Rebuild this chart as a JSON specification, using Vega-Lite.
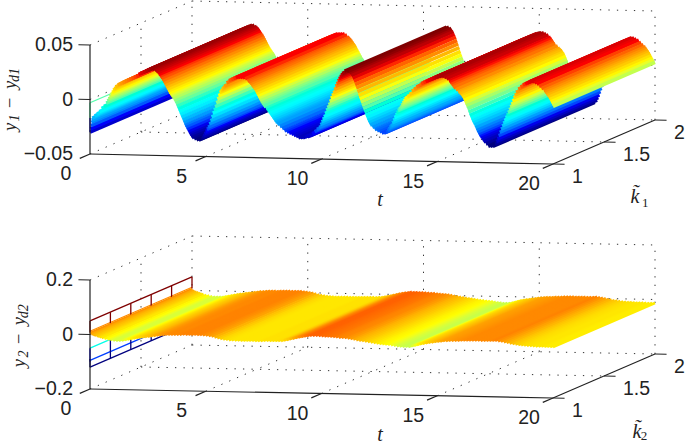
{"$schema":"https://vega.github.io/schema/vega-lite/v6.json","width":685,"height":445,"autosize":{"type":"none"},"padding":0,"background":"white","view":{"stroke":null},
"data":{"values":[
{"g":"d","p":1,"t":5,"k2":2,"z":-0.05},{"g":"d","p":1,"t":10,"k2":2,"z":-0.05},{"g":"d","p":1,"t":15,"k2":2,"z":-0.05},{"g":"d","p":1,"t":0,"k2":2,"z":-0.05},{"g":"d","p":1,"t":0,"t2":20,"k":1.5,"z":-0.05},{"g":"d","p":1,"t":0,"t2":20,"k":2,"z":-0.05},
{"g":"d","p":1,"t":0,"k":2,"z":-0.05,"z2":0.05},{"g":"d","p":1,"t":5,"k":2,"z":-0.05,"z2":0.05},{"g":"d","p":1,"t":10,"k":2,"z":-0.05,"z2":0.05},{"g":"d","p":1,"t":15,"k":2,"z":-0.05,"z2":0.05},{"g":"d","p":1,"t":20,"k":2,"z":-0.05,"z2":0.05},
{"g":"d","p":1,"t":0,"t2":20,"k":2,"z":0},{"g":"d","p":1,"t":0,"t2":20,"k":2,"z":0.05},{"g":"d","p":1,"t":0,"k2":2,"z":0},{"g":"d","p":1,"t":0,"k2":2,"z":0.05},{"g":"d","p":1,"t":0,"k":1.5,"z":-0.05,"z2":0.05},
{"g":"d","p":2,"t":5,"k2":2,"z":-0.2},{"g":"d","p":2,"t":10,"k2":2,"z":-0.2},{"g":"d","p":2,"t":15,"k2":2,"z":-0.2},{"g":"d","p":2,"t":0,"k2":2,"z":-0.2},{"g":"d","p":2,"t":0,"t2":20,"k":1.5,"z":-0.2},{"g":"d","p":2,"t":0,"t2":20,"k":2,"z":-0.2},
{"g":"d","p":2,"t":0,"k":2,"z":-0.2,"z2":0.2},{"g":"d","p":2,"t":5,"k":2,"z":-0.2,"z2":0.2},{"g":"d","p":2,"t":10,"k":2,"z":-0.2,"z2":0.2},{"g":"d","p":2,"t":15,"k":2,"z":-0.2,"z2":0.2},{"g":"d","p":2,"t":20,"k":2,"z":-0.2,"z2":0.2},
{"g":"d","p":2,"t":0,"t2":20,"k":2,"z":0},{"g":"d","p":2,"t":0,"t2":20,"k":2,"z":0.2},{"g":"d","p":2,"t":0,"k2":2,"z":0},{"g":"d","p":2,"t":0,"k2":2,"z":0.2},{"g":"d","p":2,"t":0,"k":1.5,"z":-0.2,"z2":0.2},
{"g":"w","p":1,"t":0,"k2":2,"z":-0.003},{"g":"w","p":1,"t":0,"z":-0.003,"z2":-0.017},{"g":"w","p":1,"t":0,"z":-0.03,"z2":-0.017},
{"g":"w","p":2,"t":0,"k2":2,"z":0.05},{"g":"w","p":2,"t":0,"k2":2,"z":0.012},{"g":"w","p":2,"t":0,"k2":2,"z":0.007},{"g":"w","p":2,"t":0,"k2":2,"z":-0.05},{"g":"w","p":2,"t":0,"k2":2,"z":-0.095},{"g":"w","p":2,"t":0,"k2":2,"z":-0.12},
{"g":"w","p":2,"t":0,"k":1,"z":0.05,"z2":0.007},{"g":"w","p":2,"t":0,"k":1.2,"z":0.05,"z2":0.007},{"g":"w","p":2,"t":0,"k":1.4,"z":0.05,"z2":0.007},{"g":"w","p":2,"t":0,"k":1.6,"z":0.05,"z2":0.007},{"g":"w","p":2,"t":0,"k":1.8,"z":0.05,"z2":0.007},{"g":"w","p":2,"t":0,"k":2,"z":0.05,"z2":0.007},
{"g":"w","p":2,"t":0,"k":1,"z":-0.1,"z2":-0.05},{"g":"w","p":2,"t":0,"k":1,"z":-0.12,"z2":-0.09},{"g":"w","p":2,"t":0,"k":1.2,"z":-0.12,"z2":-0.02},{"g":"w","p":2,"t":0,"k":1.4,"z":-0.12,"z2":-0.02},{"g":"w","p":2,"t":0,"k":1.6,"z":-0.12,"z2":-0.02},{"g":"w","p":2,"t":0,"k":1.8,"z":-0.12,"z2":-0.02},
{"g":"s","p":1,"t":0,"z":-0.03},{"g":"s","p":1,"t":0.02,"z":-0.027},{"g":"s","p":1,"t":0.04,"z":-0.024},{"g":"s","p":1,"t":0.06,"z":-0.021},{"g":"s","p":1,"t":0.08,"z":-0.019},
{"g":"s","p":1,"t":0.1,"z":-0.017},{"g":"s","p":1,"t":0.2,"z":-0.015},{"g":"s","p":1,"t":0.3,"z":-0.013},{"g":"s","p":1,"t":0.4,"z":-0.011},{"g":"s","p":1,"t":0.5,"z":-0.008},{"g":"s","p":1,"t":0.6,"z":-0.006},{"g":"s","p":1,"t":0.7,"z":-0.003},{"g":"s","p":1,"t":0.75,"z":-0.001},{"g":"s","p":1,"t":0.8,"z":0.001},{"g":"s","p":1,"t":0.85,"z":0.003},{"g":"s","p":1,"t":0.9,"z":0.005},{"g":"s","p":1,"t":0.95,"z":0.007},{"g":"s","p":1,"t":1,"z":0.009},{"g":"s","p":1,"t":1.05,"z":0.0105},
{"g":"s","p":1,"t":1.1,"z":0.012},{"g":"s","p":1,"t":1.2,"z":0.014},{"g":"s","p":1,"t":1.3,"z":0.015},{"g":"s","p":1,"t":1.4,"z":0.016},{"g":"s","p":1,"t":1.5,"z":0.017},{"g":"s","p":1,"t":1.6,"z":0.018},{"g":"s","p":1,"t":1.7,"z":0.019},{"g":"s","p":1,"t":1.8,"z":0.02},{"g":"s","p":1,"t":1.9,"z":0.021},{"g":"s","p":1,"t":2,"z":0.022},
{"g":"s","p":1,"t":2.1,"z":0.024},{"g":"s","p":1,"t":2.2,"z":0.025},{"g":"s","p":1,"t":2.3,"z":0.026},{"g":"s","p":1,"t":2.4,"z":0.027},{"g":"s","p":1,"t":2.5,"z":0.028},{"g":"s","p":1,"t":2.6,"z":0.029},{"g":"s","p":1,"t":2.7,"z":0.029},{"g":"s","p":1,"t":2.8,"z":0.028},{"g":"s","p":1,"t":2.85,"z":0.027},{"g":"s","p":1,"t":2.9,"z":0.026},{"g":"s","p":1,"t":2.95,"z":0.0245},{"g":"s","p":1,"t":3,"z":0.023},{"g":"s","p":1,"t":3.05,"z":0.0215},
{"g":"s","p":1,"t":3.1,"z":0.02},{"g":"s","p":1,"t":3.15,"z":0.018},{"g":"s","p":1,"t":3.2,"z":0.016},{"g":"s","p":1,"t":3.25,"z":0.014},{"g":"s","p":1,"t":3.3,"z":0.012},{"g":"s","p":1,"t":3.35,"z":0.01},{"g":"s","p":1,"t":3.4,"z":0.008},{"g":"s","p":1,"t":3.45,"z":0.0065},{"g":"s","p":1,"t":3.5,"z":0.005},{"g":"s","p":1,"t":3.55,"z":0.0035},{"g":"s","p":1,"t":3.6,"z":0.002},{"g":"s","p":1,"t":3.65,"z":0},{"g":"s","p":1,"t":3.7,"z":-0.002},{"g":"s","p":1,"t":3.75,"z":-0.0045},{"g":"s","p":1,"t":3.8,"z":-0.007},{"g":"s","p":1,"t":3.85,"z":-0.0095},{"g":"s","p":1,"t":3.9,"z":-0.012},{"g":"s","p":1,"t":3.95,"z":-0.0145},{"g":"s","p":1,"t":4,"z":-0.017},{"g":"s","p":1,"t":4.05,"z":-0.0195},
{"g":"s","p":1,"t":4.1,"z":-0.022},{"g":"s","p":1,"t":4.15,"z":-0.024},{"g":"s","p":1,"t":4.2,"z":-0.026},{"g":"s","p":1,"t":4.25,"z":-0.028},{"g":"s","p":1,"t":4.3,"z":-0.03},{"g":"s","p":1,"t":4.35,"z":-0.0315},{"g":"s","p":1,"t":4.4,"z":-0.033},{"g":"s","p":1,"t":4.5,"z":-0.034},{"g":"s","p":1,"t":4.6,"z":-0.035},{"g":"s","p":1,"t":4.7,"z":-0.035},{"g":"s","p":1,"t":4.8,"z":-0.034},{"g":"s","p":1,"t":4.85,"z":-0.0325},{"g":"s","p":1,"t":4.9,"z":-0.031},{"g":"s","p":1,"t":4.95,"z":-0.029},{"g":"s","p":1,"t":5,"z":-0.027},{"g":"s","p":1,"t":5.05,"z":-0.025},
{"g":"s","p":1,"t":5.1,"z":-0.023},{"g":"s","p":1,"t":5.15,"z":-0.02},{"g":"s","p":1,"t":5.2,"z":-0.017},{"g":"s","p":1,"t":5.25,"z":-0.0135},{"g":"s","p":1,"t":5.3,"z":-0.01},{"g":"s","p":1,"t":5.35,"z":-0.007},{"g":"s","p":1,"t":5.4,"z":-0.004},{"g":"s","p":1,"t":5.45,"z":-0.0005},{"g":"s","p":1,"t":5.5,"z":0.003},{"g":"s","p":1,"t":5.55,"z":0.006},{"g":"s","p":1,"t":5.6,"z":0.009},{"g":"s","p":1,"t":5.65,"z":0.0105},{"g":"s","p":1,"t":5.7,"z":0.012},{"g":"s","p":1,"t":5.75,"z":0.0135},{"g":"s","p":1,"t":5.8,"z":0.015},{"g":"s","p":1,"t":5.9,"z":0.018},{"g":"s","p":1,"t":6,"z":0.02},
{"g":"s","p":1,"t":6.1,"z":0.021},{"g":"s","p":1,"t":6.2,"z":0.022},{"g":"s","p":1,"t":6.3,"z":0.023},{"g":"s","p":1,"t":6.4,"z":0.023},{"g":"s","p":1,"t":6.5,"z":0.023},{"g":"s","p":1,"t":6.6,"z":0.023},{"g":"s","p":1,"t":6.7,"z":0.022},{"g":"s","p":1,"t":6.8,"z":0.02},{"g":"s","p":1,"t":6.85,"z":0.019},{"g":"s","p":1,"t":6.9,"z":0.018},{"g":"s","p":1,"t":6.95,"z":0.0165},{"g":"s","p":1,"t":7,"z":0.015},{"g":"s","p":1,"t":7.05,"z":0.0135},
{"g":"s","p":1,"t":7.1,"z":0.012},{"g":"s","p":1,"t":7.15,"z":0.01},{"g":"s","p":1,"t":7.2,"z":0.008},{"g":"s","p":1,"t":7.25,"z":0.006},{"g":"s","p":1,"t":7.3,"z":0.004},{"g":"s","p":1,"t":7.35,"z":0.002},{"g":"s","p":1,"t":7.4,"z":0},{"g":"s","p":1,"t":7.45,"z":-0.0015},{"g":"s","p":1,"t":7.5,"z":-0.003},{"g":"s","p":1,"t":7.6,"z":-0.005},{"g":"s","p":1,"t":7.65,"z":-0.0065},{"g":"s","p":1,"t":7.7,"z":-0.008},{"g":"s","p":1,"t":7.75,"z":-0.0095},{"g":"s","p":1,"t":7.8,"z":-0.011},{"g":"s","p":1,"t":7.85,"z":-0.0125},{"g":"s","p":1,"t":7.9,"z":-0.014},{"g":"s","p":1,"t":7.95,"z":-0.0155},{"g":"s","p":1,"t":8,"z":-0.017},{"g":"s","p":1,"t":8.05,"z":-0.018},
{"g":"s","p":1,"t":8.1,"z":-0.019},{"g":"s","p":1,"t":8.2,"z":-0.021},{"g":"s","p":1,"t":8.3,"z":-0.023},{"g":"s","p":1,"t":8.4,"z":-0.025},{"g":"s","p":1,"t":8.5,"z":-0.026},{"g":"s","p":1,"t":8.6,"z":-0.027},{"g":"s","p":1,"t":8.7,"z":-0.028},{"g":"s","p":1,"t":8.8,"z":-0.029},{"g":"s","p":1,"t":8.9,"z":-0.03},{"g":"s","p":1,"t":9,"z":-0.031},
{"g":"s","p":1,"t":9.1,"z":-0.031},{"g":"s","p":1,"t":9.2,"z":-0.031},{"g":"s","p":1,"t":9.3,"z":-0.03},{"g":"s","p":1,"t":9.4,"z":-0.03},{"g":"s","p":1,"t":9.5,"z":-0.029},{"g":"s","p":1,"t":9.6,"z":-0.027},{"g":"s","p":1,"t":9.7,"z":-0.025},{"g":"s","p":1,"t":9.8,"z":-0.023},{"g":"s","p":1,"t":9.9,"z":-0.021},{"g":"s","p":1,"t":9.95,"z":-0.0185},{"g":"s","p":1,"t":10,"z":-0.016},{"g":"s","p":1,"t":10.05,"z":-0.0135},
{"g":"s","p":1,"t":10.1,"z":-0.011},{"g":"s","p":1,"t":10.15,"z":-0.008},{"g":"s","p":1,"t":10.2,"z":-0.005},{"g":"s","p":1,"t":10.25,"z":-0.0025},{"g":"s","p":1,"t":10.3,"z":0},{"g":"s","p":1,"t":10.35,"z":0.003},{"g":"s","p":1,"t":10.4,"z":0.006},{"g":"s","p":1,"t":10.45,"z":0.0085},{"g":"s","p":1,"t":10.5,"z":0.011},{"g":"s","p":1,"t":10.55,"z":0.014},{"g":"s","p":1,"t":10.6,"z":0.017},{"g":"s","p":1,"t":10.65,"z":0.0195},{"g":"s","p":1,"t":10.7,"z":0.022},{"g":"s","p":1,"t":10.75,"z":0.024},{"g":"s","p":1,"t":10.8,"z":0.026},{"g":"s","p":1,"t":10.85,"z":0.0275},{"g":"s","p":1,"t":10.9,"z":0.029},{"g":"s","p":1,"t":11,"z":0.031},
{"g":"s","p":1,"t":11.1,"z":0.031},{"g":"s","p":1,"t":11.2,"z":0.03},{"g":"s","p":1,"t":11.25,"z":0.0285},{"g":"s","p":1,"t":11.3,"z":0.027},{"g":"s","p":1,"t":11.35,"z":0.0245},{"g":"s","p":1,"t":11.4,"z":0.022},{"g":"s","p":1,"t":11.45,"z":0.019},{"g":"s","p":1,"t":11.5,"z":0.016},{"g":"s","p":1,"t":11.55,"z":0.0125},{"g":"s","p":1,"t":11.6,"z":0.009},{"g":"s","p":1,"t":11.65,"z":0.006},{"g":"s","p":1,"t":11.7,"z":0.003},{"g":"s","p":1,"t":11.75,"z":0},{"g":"s","p":1,"t":11.8,"z":-0.003},{"g":"s","p":1,"t":11.85,"z":-0.006},{"g":"s","p":1,"t":11.9,"z":-0.009},{"g":"s","p":1,"t":11.95,"z":-0.0115},{"g":"s","p":1,"t":12,"z":-0.014},{"g":"s","p":1,"t":12.05,"z":-0.016},
{"g":"s","p":1,"t":12.1,"z":-0.018},{"g":"s","p":1,"t":12.2,"z":-0.02},{"g":"s","p":1,"t":12.3,"z":-0.022},{"g":"s","p":1,"t":12.4,"z":-0.023},{"g":"s","p":1,"t":12.5,"z":-0.024},{"g":"s","p":1,"t":12.6,"z":-0.025},{"g":"s","p":1,"t":12.7,"z":-0.025},{"g":"s","p":1,"t":12.8,"z":-0.024},{"g":"s","p":1,"t":12.85,"z":-0.0225},{"g":"s","p":1,"t":12.9,"z":-0.021},{"g":"s","p":1,"t":12.95,"z":-0.0195},{"g":"s","p":1,"t":13,"z":-0.018},{"g":"s","p":1,"t":13.05,"z":-0.0155},
{"g":"s","p":1,"t":13.1,"z":-0.013},{"g":"s","p":1,"t":13.15,"z":-0.0105},{"g":"s","p":1,"t":13.2,"z":-0.008},{"g":"s","p":1,"t":13.25,"z":-0.006},{"g":"s","p":1,"t":13.3,"z":-0.004},{"g":"s","p":1,"t":13.35,"z":-0.0025},{"g":"s","p":1,"t":13.4,"z":-0.001},{"g":"s","p":1,"t":13.45,"z":0.001},{"g":"s","p":1,"t":13.5,"z":0.003},{"g":"s","p":1,"t":13.55,"z":0.005},{"g":"s","p":1,"t":13.6,"z":0.007},{"g":"s","p":1,"t":13.7,"z":0.009},{"g":"s","p":1,"t":13.8,"z":0.011},{"g":"s","p":1,"t":13.9,"z":0.014},{"g":"s","p":1,"t":14,"z":0.016},
{"g":"s","p":1,"t":14.1,"z":0.018},{"g":"s","p":1,"t":14.2,"z":0.019},{"g":"s","p":1,"t":14.3,"z":0.021},{"g":"s","p":1,"t":14.4,"z":0.022},{"g":"s","p":1,"t":14.5,"z":0.023},{"g":"s","p":1,"t":14.6,"z":0.024},{"g":"s","p":1,"t":14.7,"z":0.025},{"g":"s","p":1,"t":14.8,"z":0.026},{"g":"s","p":1,"t":14.9,"z":0.027},{"g":"s","p":1,"t":15,"z":0.0275},
{"g":"s","p":1,"t":15.1,"z":0.028},{"g":"s","p":1,"t":15.2,"z":0.028},{"g":"s","p":1,"t":15.3,"z":0.027},{"g":"s","p":1,"t":15.4,"z":0.026},{"g":"s","p":1,"t":15.5,"z":0.024},{"g":"s","p":1,"t":15.55,"z":0.0225},{"g":"s","p":1,"t":15.6,"z":0.021},{"g":"s","p":1,"t":15.65,"z":0.0195},{"g":"s","p":1,"t":15.7,"z":0.018},{"g":"s","p":1,"t":15.8,"z":0.016},{"g":"s","p":1,"t":15.9,"z":0.014},{"g":"s","p":1,"t":15.95,"z":0.013},{"g":"s","p":1,"t":16,"z":0.012},{"g":"s","p":1,"t":16.05,"z":0.0105},
{"g":"s","p":1,"t":16.1,"z":0.009},{"g":"s","p":1,"t":16.15,"z":0.0065},{"g":"s","p":1,"t":16.2,"z":0.004},{"g":"s","p":1,"t":16.25,"z":0.0015},{"g":"s","p":1,"t":16.3,"z":-0.001},{"g":"s","p":1,"t":16.35,"z":-0.004},{"g":"s","p":1,"t":16.4,"z":-0.007},{"g":"s","p":1,"t":16.45,"z":-0.0095},{"g":"s","p":1,"t":16.5,"z":-0.012},{"g":"s","p":1,"t":16.55,"z":-0.014},{"g":"s","p":1,"t":16.6,"z":-0.016},{"g":"s","p":1,"t":16.65,"z":-0.0185},{"g":"s","p":1,"t":16.7,"z":-0.021},{"g":"s","p":1,"t":16.75,"z":-0.023},{"g":"s","p":1,"t":16.8,"z":-0.025},{"g":"s","p":1,"t":16.85,"z":-0.0265},{"g":"s","p":1,"t":16.9,"z":-0.028},{"g":"s","p":1,"t":16.95,"z":-0.0295},{"g":"s","p":1,"t":17,"z":-0.031},
{"g":"s","p":1,"t":17.1,"z":-0.033},{"g":"s","p":1,"t":17.2,"z":-0.035},{"g":"s","p":1,"t":17.3,"z":-0.035},{"g":"s","p":1,"t":17.4,"z":-0.035},{"g":"s","p":1,"t":17.5,"z":-0.033},{"g":"s","p":1,"t":17.55,"z":-0.0305},{"g":"s","p":1,"t":17.6,"z":-0.028},{"g":"s","p":1,"t":17.65,"z":-0.025},{"g":"s","p":1,"t":17.7,"z":-0.022},{"g":"s","p":1,"t":17.75,"z":-0.019},{"g":"s","p":1,"t":17.8,"z":-0.016},{"g":"s","p":1,"t":17.85,"z":-0.0135},{"g":"s","p":1,"t":17.9,"z":-0.011},{"g":"s","p":1,"t":17.95,"z":-0.0085},{"g":"s","p":1,"t":18,"z":-0.006},{"g":"s","p":1,"t":18.05,"z":-0.0035},
{"g":"s","p":1,"t":18.1,"z":-0.001},{"g":"s","p":1,"t":18.15,"z":0.0015},{"g":"s","p":1,"t":18.2,"z":0.004},{"g":"s","p":1,"t":18.25,"z":0.007},{"g":"s","p":1,"t":18.3,"z":0.01},{"g":"s","p":1,"t":18.35,"z":0.0125},{"g":"s","p":1,"t":18.4,"z":0.015},{"g":"s","p":1,"t":18.5,"z":0.018},{"g":"s","p":1,"t":18.6,"z":0.02},{"g":"s","p":1,"t":18.7,"z":0.022},{"g":"s","p":1,"t":18.8,"z":0.023},{"g":"s","p":1,"t":18.9,"z":0.024},{"g":"s","p":1,"t":19,"z":0.025},
{"g":"s","p":1,"t":19.1,"z":0.025},{"g":"s","p":1,"t":19.2,"z":0.024},{"g":"s","p":1,"t":19.3,"z":0.023},{"g":"s","p":1,"t":19.4,"z":0.021},{"g":"s","p":1,"t":19.5,"z":0.019},{"g":"s","p":1,"t":19.6,"z":0.017},{"g":"s","p":1,"t":19.65,"z":0.0155},{"g":"s","p":1,"t":19.7,"z":0.014},{"g":"s","p":1,"t":19.75,"z":0.0125},{"g":"s","p":1,"t":19.8,"z":0.011},{"g":"s","p":1,"t":19.85,"z":0.009},{"g":"s","p":1,"t":19.9,"z":0.007},{"g":"s","p":1,"t":19.95,"z":0.005},{"g":"s","p":1,"t":20,"z":0.003},
{"g":"s","p":2,"t":0,"z":0.004},{"g":"s","p":2,"t":0.05,"z":0.001},{"g":"s","p":2,"t":0.1,"z":-0.001},{"g":"s","p":2,"t":0.15,"z":-0.003},{"g":"s","p":2,"t":0.2,"z":-0.004},{"g":"s","p":2,"t":0.28,"z":-0.006},{"g":"s","p":2,"t":0.35,"z":-0.008},{"g":"s","p":2,"t":0.42,"z":-0.01},{"g":"s","p":2,"t":0.5,"z":-0.012},{"g":"s","p":2,"t":0.625,"z":-0.015},{"g":"s","p":2,"t":0.75,"z":-0.017},{"g":"s","p":2,"t":0.875,"z":-0.019},{"g":"s","p":2,"t":1,"z":-0.021},{"g":"s","p":2,"t":1.125,"z":-0.021},{"g":"s","p":2,"t":1.25,"z":-0.021},{"g":"s","p":2,"t":1.375,"z":-0.02},{"g":"s","p":2,"t":1.5,"z":-0.018},{"g":"s","p":2,"t":1.625,"z":-0.016},{"g":"s","p":2,"t":1.75,"z":-0.014},{"g":"s","p":2,"t":1.875,"z":-0.012},{"g":"s","p":2,"t":2,"z":-0.01},{"g":"s","p":2,"t":2.125,"z":-0.0085},{"g":"s","p":2,"t":2.25,"z":-0.007},{"g":"s","p":2,"t":2.375,"z":-0.0055},{"g":"s","p":2,"t":2.5,"z":-0.004},{"g":"s","p":2,"t":2.625,"z":-0.0025},{"g":"s","p":2,"t":2.75,"z":-0.001},{"g":"s","p":2,"t":2.875,"z":0.0005},{"g":"s","p":2,"t":3,"z":0.002},{"g":"s","p":2,"t":3.125,"z":0.003},{"g":"s","p":2,"t":3.25,"z":0.004},{"g":"s","p":2,"t":3.375,"z":0.0045},{"g":"s","p":2,"t":3.5,"z":0.005},{"g":"s","p":2,"t":3.625,"z":0.005},{"g":"s","p":2,"t":3.75,"z":0.005},{"g":"s","p":2,"t":3.875,"z":0.0055},{"g":"s","p":2,"t":4,"z":0.006},{"g":"s","p":2,"t":4.125,"z":0.006},{"g":"s","p":2,"t":4.25,"z":0.006},{"g":"s","p":2,"t":4.375,"z":0.006},{"g":"s","p":2,"t":4.5,"z":0.006},{"g":"s","p":2,"t":4.625,"z":0.006},{"g":"s","p":2,"t":4.75,"z":0.006},{"g":"s","p":2,"t":4.875,"z":0.005},{"g":"s","p":2,"t":5,"z":0.004},{"g":"s","p":2,"t":5.125,"z":0.0025},{"g":"s","p":2,"t":5.25,"z":0.001},{"g":"s","p":2,"t":5.375,"z":-0.002},{"g":"s","p":2,"t":5.5,"z":-0.005},{"g":"s","p":2,"t":5.625,"z":-0.007},{"g":"s","p":2,"t":5.75,"z":-0.009},{"g":"s","p":2,"t":5.875,"z":-0.01},{"g":"s","p":2,"t":6,"z":-0.011},{"g":"s","p":2,"t":6.125,"z":-0.0115},{"g":"s","p":2,"t":6.25,"z":-0.012},{"g":"s","p":2,"t":6.375,"z":-0.012},{"g":"s","p":2,"t":6.5,"z":-0.012},{"g":"s","p":2,"t":6.625,"z":-0.012},{"g":"s","p":2,"t":6.75,"z":-0.012},{"g":"s","p":2,"t":6.875,"z":-0.012},{"g":"s","p":2,"t":7,"z":-0.012},{"g":"s","p":2,"t":7.125,"z":-0.012},{"g":"s","p":2,"t":7.25,"z":-0.012},{"g":"s","p":2,"t":7.375,"z":-0.0115},{"g":"s","p":2,"t":7.5,"z":-0.011},{"g":"s","p":2,"t":7.625,"z":-0.011},{"g":"s","p":2,"t":7.75,"z":-0.011},{"g":"s","p":2,"t":7.875,"z":-0.011},{"g":"s","p":2,"t":8,"z":-0.011},{"g":"s","p":2,"t":8.125,"z":-0.0105},{"g":"s","p":2,"t":8.25,"z":-0.01},{"g":"s","p":2,"t":8.375,"z":-0.008},{"g":"s","p":2,"t":8.5,"z":-0.006},{"g":"s","p":2,"t":8.625,"z":-0.0035},{"g":"s","p":2,"t":8.75,"z":-0.001},{"g":"s","p":2,"t":8.875,"z":0.0015},{"g":"s","p":2,"t":9,"z":0.004},{"g":"s","p":2,"t":9.125,"z":0.006},{"g":"s","p":2,"t":9.25,"z":0.008},{"g":"s","p":2,"t":9.375,"z":0.0095},{"g":"s","p":2,"t":9.5,"z":0.011},{"g":"s","p":2,"t":9.625,"z":0.011},{"g":"s","p":2,"t":9.75,"z":0.011},{"g":"s","p":2,"t":9.875,"z":0.0105},{"g":"s","p":2,"t":10,"z":0.01},{"g":"s","p":2,"t":10.125,"z":0.0095},{"g":"s","p":2,"t":10.25,"z":0.009},{"g":"s","p":2,"t":10.375,"z":0.0085},{"g":"s","p":2,"t":10.5,"z":0.008},{"g":"s","p":2,"t":10.625,"z":0.007},{"g":"s","p":2,"t":10.75,"z":0.006},{"g":"s","p":2,"t":10.875,"z":0.0055},{"g":"s","p":2,"t":11,"z":0.005},{"g":"s","p":2,"t":11.125,"z":0.0035},{"g":"s","p":2,"t":11.25,"z":0.002},{"g":"s","p":2,"t":11.375,"z":0},{"g":"s","p":2,"t":11.5,"z":-0.002},{"g":"s","p":2,"t":11.625,"z":-0.0035},{"g":"s","p":2,"t":11.75,"z":-0.005},{"g":"s","p":2,"t":11.875,"z":-0.0065},{"g":"s","p":2,"t":12,"z":-0.008},{"g":"s","p":2,"t":12.125,"z":-0.0095},{"g":"s","p":2,"t":12.25,"z":-0.011},{"g":"s","p":2,"t":12.375,"z":-0.0125},{"g":"s","p":2,"t":12.5,"z":-0.014},{"g":"s","p":2,"t":12.625,"z":-0.015},{"g":"s","p":2,"t":12.75,"z":-0.016},{"g":"s","p":2,"t":12.875,"z":-0.017},{"g":"s","p":2,"t":13,"z":-0.018},{"g":"s","p":2,"t":13.125,"z":-0.0195},{"g":"s","p":2,"t":13.25,"z":-0.021},{"g":"s","p":2,"t":13.375,"z":-0.022},{"g":"s","p":2,"t":13.5,"z":-0.023},{"g":"s","p":2,"t":13.625,"z":-0.023},{"g":"s","p":2,"t":13.75,"z":-0.023},{"g":"s","p":2,"t":13.875,"z":-0.0205},{"g":"s","p":2,"t":14,"z":-0.018},{"g":"s","p":2,"t":14.125,"z":-0.015},{"g":"s","p":2,"t":14.25,"z":-0.012},{"g":"s","p":2,"t":14.375,"z":-0.01},{"g":"s","p":2,"t":14.5,"z":-0.008},{"g":"s","p":2,"t":14.625,"z":-0.0065},{"g":"s","p":2,"t":14.75,"z":-0.005},{"g":"s","p":2,"t":14.875,"z":-0.0035},{"g":"s","p":2,"t":15,"z":-0.002},{"g":"s","p":2,"t":15.125,"z":-0.0005},{"g":"s","p":2,"t":15.25,"z":0.001},{"g":"s","p":2,"t":15.375,"z":0.0015},{"g":"s","p":2,"t":15.5,"z":0.002},{"g":"s","p":2,"t":15.625,"z":0.0025},{"g":"s","p":2,"t":15.75,"z":0.003},{"g":"s","p":2,"t":15.875,"z":0.0035},{"g":"s","p":2,"t":16,"z":0.004},{"g":"s","p":2,"t":16.125,"z":0.0045},{"g":"s","p":2,"t":16.25,"z":0.005},{"g":"s","p":2,"t":16.375,"z":0.005},{"g":"s","p":2,"t":16.5,"z":0.005},{"g":"s","p":2,"t":16.625,"z":0.005},{"g":"s","p":2,"t":16.75,"z":0.005},{"g":"s","p":2,"t":16.875,"z":0.005},{"g":"s","p":2,"t":17,"z":0.005},{"g":"s","p":2,"t":17.125,"z":0.005},{"g":"s","p":2,"t":17.25,"z":0.005},{"g":"s","p":2,"t":17.375,"z":0.0055},{"g":"s","p":2,"t":17.5,"z":0.006},{"g":"s","p":2,"t":17.625,"z":0.0045},{"g":"s","p":2,"t":17.75,"z":0.003},{"g":"s","p":2,"t":17.875,"z":0.001},{"g":"s","p":2,"t":18,"z":-0.001},{"g":"s","p":2,"t":18.125,"z":-0.003},{"g":"s","p":2,"t":18.25,"z":-0.005},{"g":"s","p":2,"t":18.375,"z":-0.0065},{"g":"s","p":2,"t":18.5,"z":-0.008},{"g":"s","p":2,"t":18.625,"z":-0.009},{"g":"s","p":2,"t":18.75,"z":-0.01},{"g":"s","p":2,"t":18.875,"z":-0.0105},{"g":"s","p":2,"t":19,"z":-0.011},{"g":"s","p":2,"t":19.125,"z":-0.0115},{"g":"s","p":2,"t":19.25,"z":-0.012},{"g":"s","p":2,"t":19.375,"z":-0.012},{"g":"s","p":2,"t":19.5,"z":-0.012},{"g":"s","p":2,"t":19.625,"z":-0.0125},{"g":"s","p":2,"t":19.75,"z":-0.013},{"g":"s","p":2,"t":19.875,"z":-0.013},{"g":"s","p":2,"t":20,"z":-0.013},
{"g":"a","p":1,"t":0,"z":-0.05,"z2":0.05},{"g":"a","p":1,"t":0,"t2":20,"z":-0.05},{"g":"a","p":1,"t":20,"k2":2,"z":-0.05},{"g":"a","p":1,"t":0,"t2":-0.5,"z":0.05},{"g":"a","p":1,"t":0,"t2":-0.5,"z":0},{"g":"a","p":1,"t":0,"k2":0.9,"z":-0.05},{"g":"a","p":1,"t":5,"k2":0.9,"z":-0.05},{"g":"a","p":1,"t":10,"k2":0.9,"z":-0.05},{"g":"a","p":1,"t":15,"k2":0.9,"z":-0.05},{"g":"a","p":1,"t":20,"k2":0.9,"z":-0.05},{"g":"a","p":1,"t":20,"t2":20.5,"z":-0.05},{"g":"a","p":1,"t":20,"t2":20.5,"k":1.5,"z":-0.05},{"g":"a","p":1,"t":20,"t2":20.5,"k":2,"z":-0.05},
{"g":"a","p":2,"t":0,"z":-0.2,"z2":0.2},{"g":"a","p":2,"t":0,"t2":20,"z":-0.2},{"g":"a","p":2,"t":20,"k2":2,"z":-0.2},{"g":"a","p":2,"t":0,"t2":-0.5,"z":0.2},{"g":"a","p":2,"t":0,"t2":-0.5,"z":0},{"g":"a","p":2,"t":0,"k2":0.9,"z":-0.2},{"g":"a","p":2,"t":5,"k2":0.9,"z":-0.2},{"g":"a","p":2,"t":10,"k2":0.9,"z":-0.2},{"g":"a","p":2,"t":15,"k2":0.9,"z":-0.2},{"g":"a","p":2,"t":20,"k2":0.9,"z":-0.2},{"g":"a","p":2,"t":20,"t2":20.5,"z":-0.2},{"g":"a","p":2,"t":20,"t2":20.5,"k":1.5,"z":-0.2},{"g":"a","p":2,"t":20,"t2":20.5,"k":2,"z":-0.2},
{"g":"zl","p":1,"t":0,"z":0.05,"s":"0.05"},{"g":"zl","p":1,"t":0,"z":0,"s":"0"},{"g":"zl","p":1,"t":0,"z":-0.05,"s":"−0.05"},{"g":"zl","p":2,"t":0,"z":0.2,"s":"0.2"},{"g":"zl","p":2,"t":0,"z":0,"s":"0"},{"g":"zl","p":2,"t":0,"z":-0.2,"s":"−0.2"},
{"g":"tl","p":1,"t":0,"z":-0.05,"s":"0"},{"g":"tl","p":1,"t":5,"z":-0.05,"s":"5"},{"g":"tl","p":1,"t":10,"z":-0.05,"s":"10"},{"g":"tl","p":1,"t":15,"z":-0.05,"s":"15"},{"g":"tl","p":1,"t":20,"z":-0.05,"s":"20"},{"g":"tl","p":2,"t":0,"z":-0.2,"s":"0"},{"g":"tl","p":2,"t":5,"z":-0.2,"s":"5"},{"g":"tl","p":2,"t":10,"z":-0.2,"s":"10"},{"g":"tl","p":2,"t":15,"z":-0.2,"s":"15"},{"g":"tl","p":2,"t":20,"z":-0.2,"s":"20"},
{"g":"kl","p":1,"t":20,"k":1,"z":-0.05,"s":"1"},{"g":"kl","p":1,"t":20,"k":1.5,"z":-0.05,"s":"1.5"},{"g":"kl","p":1,"t":20,"k":2,"z":-0.05,"s":"2"},{"g":"kl","p":2,"t":20,"k":1,"z":-0.2,"s":"1"},{"g":"kl","p":2,"t":20,"k":1.5,"z":-0.2,"s":"1.5"},{"g":"kl","p":2,"t":20,"k":2,"z":-0.2,"s":"2"},
{"g":"ti","p":1,"t":12.53,"z":-0.0865,"s":"t"},{"g":"ti","p":2,"t":12.53,"z":-0.348,"s":"t"},{"g":"ti","p":1,"t":23.54,"z":-0.0787,"s":"k̃"},{"g":"ti","p":2,"t":23.63,"z":-0.319,"s":"k̃"},
{"g":"sub","p":1,"t":23.98,"z":-0.0839,"s":"1"},{"g":"sub","p":2,"t":23.93,"z":-0.3335,"s":"2"},
{"g":"r","p":1,"t":-3.47,"z":-0.0268,"s":"y"},{"g":"r","p":1,"t":-3.47,"z":-0.0048,"s":"−"},{"g":"r","p":1,"t":-3.47,"z":0.0117,"s":"y"},
{"g":"rs","p":1,"t":-3.25,"z":-0.0185,"s":"1"},{"g":"rs","p":1,"t":-3.25,"z":0.0209,"s":"d1"},
{"g":"r","p":2,"t":-3.05,"z":-0.1097,"s":"y"},{"g":"r","p":2,"t":-3.05,"z":-0.0216,"s":"−"},{"g":"r","p":2,"t":-3.05,"z":0.0444,"s":"y"},
{"g":"rs","p":2,"t":-2.83,"z":-0.0763,"s":"2"},{"g":"rs","p":2,"t":-2.83,"z":0.0808,"s":"d2"}
]},
"transform":[
{"calculate":"isValid(datum.k)?datum.k:1","as":"K"},
{"calculate":"isValid(datum.t2)?datum.t2:datum.t","as":"T2"},
{"calculate":"isValid(datum.k2)?datum.k2:(datum.g=='s'?2:datum.K)","as":"K2"},
{"calculate":"isValid(datum.z2)?datum.z2:datum.z","as":"Z2"},
{"calculate":"90+23.15*datum.t+102*(datum.K-1)","as":"px"},
{"calculate":"90+23.15*datum.T2+102*(datum.K2-1)","as":"px2"},
{"calculate":"(datum.p==1?99.5+0.5*datum.t-1090*datum.z:334.5+0.45*datum.t-272.5*datum.z)-44*(datum.K-1)","as":"py"},
{"calculate":"(datum.p==1?99.5+0.5*datum.T2-1090*datum.Z2:334.5+0.45*datum.T2-272.5*datum.Z2)-44*(datum.K2-1)","as":"py2"},
{"calculate":"datum.p==1?(datum.z+0.035)/0.066:(datum.g=='s'?0.82+(datum.z-0.011)*7.06:(datum.z+0.12)/0.17)","as":"c"}
],
"encoding":{
"x":{"field":"px","type":"quantitative","axis":null,"scale":{"domain":[0,685],"nice":false,"zero":false}},
"y":{"field":"py","type":"quantitative","axis":null,"scale":{"domain":[445,0],"nice":false,"zero":false}}
},
"layer":[
{"transform":[{"filter":"datum.g=='d'"}],"mark":{"type":"rule","stroke":"#333333","strokeWidth":1,"strokeDash":[1.3,7.2]},"encoding":{"x2":{"field":"px2"},"y2":{"field":"py2"}}},
{"transform":[{"filter":"datum.g=='w'"}],"mark":{"type":"rule","strokeWidth":1.3},"encoding":{"x2":{"field":"px2"},"y2":{"field":"py2"},"color":{"field":"c","type":"quantitative","legend":null,"scale":{"domain":[0,0.125,0.375,0.625,0.875,1],"range":["#00007f","#0000ff","#00ffff","#ffff00","#ff0000","#7f0000"],"clamp":true}}}},
{"transform":[{"filter":"datum.g=='s'&&datum.p==1"}],"mark":{"type":"rule","strokeWidth":3.6},"encoding":{"x2":{"field":"px2"},"y2":{"field":"py2"},"color":{"field":"c","type":"quantitative","legend":null,"scale":{"domain":[0,0.125,0.375,0.625,0.875,1],"range":["#00007f","#0000ff","#00ffff","#ffff00","#ff0000","#7f0000"],"clamp":true}}}},
{"transform":[{"filter":"datum.g=='s'&&datum.p==2"}],"mark":{"type":"rule","strokeWidth":2.6},"encoding":{"x2":{"field":"px2"},"y2":{"field":"py2"},"color":{"field":"c","type":"quantitative","legend":null,"scale":{"domain":[0,0.125,0.375,0.625,0.875,1],"range":["#00007f","#0000ff","#00ffff","#ffff00","#ff0000","#7f0000"],"clamp":true}}}},
{"transform":[{"filter":"datum.g=='a'"}],"mark":{"type":"rule","stroke":"#222222","strokeWidth":1.2},"encoding":{"x2":{"field":"px2"},"y2":{"field":"py2"}}},
{"transform":[{"filter":"datum.g=='zl'"}],"mark":{"type":"text","font":"Liberation Sans","fontSize":19.5,"align":"right","baseline":"middle","dx":-17,"fill":"#222222"},"encoding":{"text":{"field":"s"}}},
{"transform":[{"filter":"datum.g=='tl'"}],"mark":{"type":"text","font":"Liberation Sans","fontSize":19.5,"align":"center","baseline":"middle","dx":-24,"dy":20,"fill":"#222222"},"encoding":{"text":{"field":"s"}}},
{"transform":[{"filter":"datum.g=='kl'"}],"mark":{"type":"text","font":"Liberation Sans","fontSize":19.5,"align":"left","baseline":"middle","dx":19,"dy":13,"fill":"#222222"},"encoding":{"text":{"field":"s"}}},
{"transform":[{"filter":"datum.g=='ti'"}],"mark":{"type":"text","font":"Liberation Serif","fontStyle":"italic","fontSize":20,"align":"center","baseline":"middle","fill":"#222222"},"encoding":{"text":{"field":"s"}}},
{"transform":[{"filter":"datum.g=='sub'"}],"mark":{"type":"text","font":"Liberation Serif","fontSize":13,"align":"center","baseline":"middle","fill":"#222222"},"encoding":{"text":{"field":"s"}}},
{"transform":[{"filter":"datum.g=='r'"}],"mark":{"type":"text","font":"Liberation Serif","fontStyle":"italic","fontSize":18.5,"align":"center","baseline":"middle","angle":270,"fill":"#222222"},"encoding":{"text":{"field":"s"}}},
{"transform":[{"filter":"datum.g=='rs'"}],"mark":{"type":"text","font":"Liberation Serif","fontStyle":"italic","fontSize":14,"align":"center","baseline":"middle","angle":270,"fill":"#222222"},"encoding":{"text":{"field":"s"}}}
]}
